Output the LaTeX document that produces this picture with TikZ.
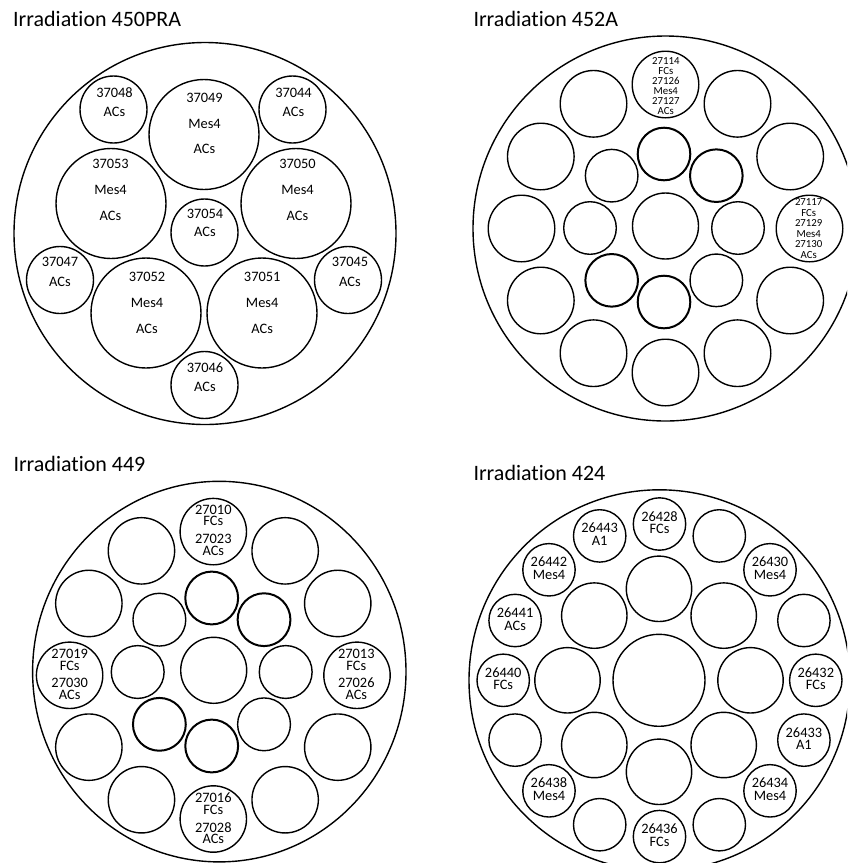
\documentclass[tikz,border=0pt]{standalone}
\usepackage{fontspec}
\setmainfont{Carlito}[Ligatures={NoCommon,NoContextual}]
\usetikzlibrary{calc}
\tikzset{
  ring/.style={circle, draw, line width=1.4pt, inner sep=0pt, outer sep=0pt},
  thickring/.style={ring, line width=2pt},
  ttl/.style={anchor=base west, inner sep=0pt, font=\fontsize{22}{26}\selectfont},
  lbl/.style={align=center, inner sep=0pt, font=\fontsize{14.4}{#1}\selectfont},
  lblsmall/.style={align=center, inner sep=0pt, font=\fontsize{10.8}{#1}\selectfont},
}
\begin{document}
\begin{tikzpicture}[x=1pt,y=-1pt]
\useasboundingbox (0,0) rectangle (847,863);
\clip (0,0) rectangle (847,863);

% ---------------- Irradiation 450PRA ----------------
\node[ttl] (T1) at (13,26) {Irradiation 450PRA};
\node[ring, minimum size=382pt] (A0) at (205,233.5) {};
\node[ring, minimum size=67pt]  (A48) at (113.5,109.5) {};
\node[ring, minimum size=110pt] (A49) at (204,134.5) {};
\node[ring, minimum size=67pt]  (A44) at (292.5,109.5) {};
\node[ring, minimum size=110pt] (A53) at (111,203.5) {};
\node[ring, minimum size=110pt] (A50) at (296,203.5) {};
\node[ring, minimum size=67pt]  (A54) at (204.5,232.5) {};
\node[ring, minimum size=67pt]  (A47) at (60,280) {};
\node[ring, minimum size=110pt] (A52) at (146,313) {};
\node[ring, minimum size=110pt] (A51) at (262,313) {};
\node[ring, minimum size=67pt]  (A45) at (348,280) {};
\node[ring, minimum size=67pt]  (A46) at (204.5,385) {};

\node[lbl=19]   (tA48) at (114.5,102.3) {37048\\ACs};
\node[lbl=25.5] (tA49) at (204.5,123.5) {37049\\Mes4\\ACs};
\node[lbl=19]   (tA44) at (293.5,102.2) {37044\\ACs};
\node[lbl=26.3] (tA53) at (110.5,189.7) {37053\\Mes4\\ACs};
\node[lbl=26.3] (tA50) at (297.5,189.7) {37050\\Mes4\\ACs};
\node[lbl=18]   (tA54) at (205,223.3) {37054\\ACs};
\node[lbl=20]   (tA47) at (60,271.7) {37047\\ACs};
\node[lbl=26]   (tA52) at (147,302.5) {37052\\Mes4\\ACs};
\node[lbl=26]   (tA51) at (262.2,302.5) {37051\\Mes4\\ACs};
\node[lbl=20]   (tA45) at (350,271.7) {37045\\ACs};
\node[lbl=19]   (tA46) at (205,377.2) {37046\\ACs};

% ---------------- Irradiation 452A ----------------
\node[ttl] (T2) at (473.3,26) {Irradiation 452A};
\node[ring, minimum size=385pt] (B0) at (665.5,228.5) {};
\foreach \i in {0,...,11}
  \node[ring, minimum size=66.6pt] (Bo\i) at ({665.5+144*cos(30*\i)},{228.5+144*sin(30*\i)}) {};
\foreach \i/\s in {0/ring,1/ring,2/thickring,3/thickring,4/ring,5/ring,6/thickring,7/thickring}
  \node[\s, minimum size=52.6pt] (Bm\i) at ({664+74*cos(45*\i)},{228+74*sin(45*\i)}) {};
\node[ring, minimum size=66pt] (Bc) at (665.5,226) {};
\node[lblsmall=9.95] (tB1) at (665.8,85.8) {27114\\FCs\\27126\\Mes4\\27127\\ACs};
\node[lblsmall=10.5] (tB2) at (808.7,228.7) {27117\\FCs\\27129\\Mes4\\27130\\ACs};

% ---------------- Irradiation 449 ----------------
\node[ttl] (T3) at (13.3,471.3) {Irradiation 449};
\draw[line width=1.4pt] (219.3,671.6) ellipse [x radius=186.7, y radius=190.3];
\foreach \i in {0,...,11}
  \node[ring, minimum size=66.4pt] (Co\i) at ({213.3+143.7*cos(30*\i)},{675.3+143.7*sin(30*\i)}) {};
\foreach \i/\s in {0/ring,1/ring,2/thickring,3/thickring,4/ring,5/ring,6/thickring,7/thickring}
  \node[\s, minimum size=52.8pt] (Cm\i) at ({211.7+74*cos(45*\i)},{672+74*sin(45*\i)}) {};
\node[ring, minimum size=66pt] (Cc) at (213.7,670.3) {};
\node[lbl=11.8] (tC1) at (213.3,530)   {27010\\FCs\\[5.6pt]27023\\ACs};
\node[lbl=11.8] (tC2) at (69.7,674.5)  {27019\\FCs\\[5.6pt]27030\\ACs};
\node[lbl=11.8] (tC3) at (356.3,674.5) {27013\\FCs\\[5.6pt]27026\\ACs};
\node[lbl=11.8] (tC4) at (213.3,818.5) {27016\\FCs\\[5.6pt]27028\\ACs};

% ---------------- Irradiation 424 ----------------
\node[ttl] (T4) at (473.3,480.3) {Irradiation 424};
\node[ring, minimum size=381pt] (D0) at (659.5,680.3) {};
\node[ring, minimum size=92pt] (Dc) at (659,680.3) {};
\foreach \i in {0,...,7}
  \node[ring, minimum size=65.4pt] (Dm\i) at ({659+91.5*cos(45*\i)},{680.3+91.5*sin(45*\i)}) {};
\foreach \k in {0,...,15}
  \node[ring, minimum size=52.4pt] (Do\k) at ({659.5+156.3*cos(-90+22.5*\k)},{680.3+156.3*sin(-90+22.5*\k)}) {};
\foreach \k/\a/\b in {0/26428/FCs, 2/26430/Mes4, 4/26432/FCs, 5/26433/A1, 6/26434/Mes4,
                      8/26436/FCs, 10/26438/Mes4, 12/26440/FCs, 13/26441/ACs, 14/26442/Mes4, 15/26443/A1}
  \node[lbl=12.7] (tD\k) at ($(Do\k.center)+(0,-1.5)$) {\a\\\b};
\end{tikzpicture}
\end{document}
